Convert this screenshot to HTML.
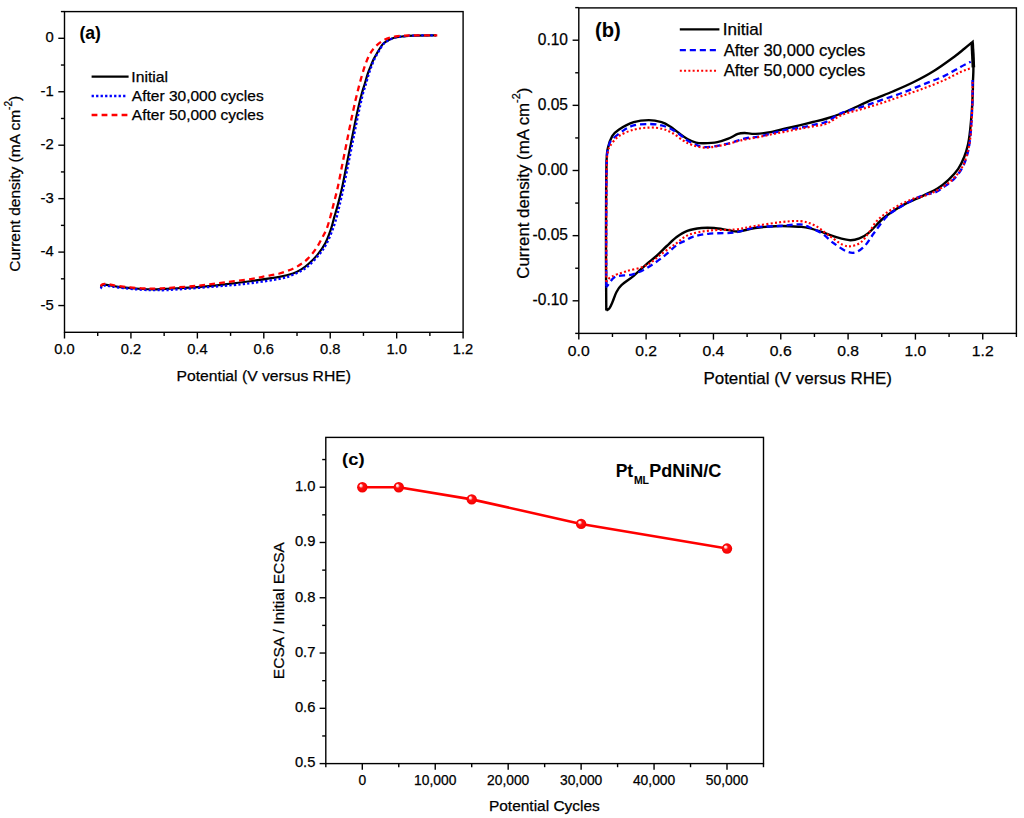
<!DOCTYPE html>
<html><head><meta charset="utf-8"><style>
html,body{margin:0;padding:0;background:#fff;}
svg{display:block;}
text{font-family:"Liberation Sans",sans-serif;fill:#000;stroke:#000;stroke-width:0.25px;}
text[font-weight="bold"]{stroke-width:0.08px;}
</style></head><body>
<svg width="1024" height="818" viewBox="0 0 1024 818">
<defs><radialGradient id="ball" cx="0.5" cy="0.5" r="0.5" fx="0.32" fy="0.3">
<stop offset="0" stop-color="#ffffff"/><stop offset="0.2" stop-color="#ffd0d0"/><stop offset="0.42" stop-color="#ff1010"/><stop offset="1" stop-color="#f40000"/></radialGradient></defs>
<rect width="1024" height="818" fill="#fff"/>
<rect x="64.5" y="11.6" width="398.6" height="320.7" fill="none" stroke="#000" stroke-width="1.4"/>
<line x1="64.5" y1="332.3" x2="64.5" y2="338.5" stroke="#000" stroke-width="1.4"/>
<text x="54.29" y="354.2" font-size="14.4" textLength="20.42" lengthAdjust="spacingAndGlyphs">0.0</text>
<line x1="97.72" y1="332.3" x2="97.72" y2="335.9" stroke="#000" stroke-width="1.4"/>
<line x1="130.93" y1="332.3" x2="130.93" y2="338.5" stroke="#000" stroke-width="1.4"/>
<text x="120.72" y="354.2" font-size="14.4" textLength="20.42" lengthAdjust="spacingAndGlyphs">0.2</text>
<line x1="164.15" y1="332.3" x2="164.15" y2="335.9" stroke="#000" stroke-width="1.4"/>
<line x1="197.37" y1="332.3" x2="197.37" y2="338.5" stroke="#000" stroke-width="1.4"/>
<text x="187.16" y="354.2" font-size="14.4" textLength="20.42" lengthAdjust="spacingAndGlyphs">0.4</text>
<line x1="230.58" y1="332.3" x2="230.58" y2="335.9" stroke="#000" stroke-width="1.4"/>
<line x1="263.8" y1="332.3" x2="263.8" y2="338.5" stroke="#000" stroke-width="1.4"/>
<text x="253.59" y="354.2" font-size="14.4" textLength="20.42" lengthAdjust="spacingAndGlyphs">0.6</text>
<line x1="297.02" y1="332.3" x2="297.02" y2="335.9" stroke="#000" stroke-width="1.4"/>
<line x1="330.23" y1="332.3" x2="330.23" y2="338.5" stroke="#000" stroke-width="1.4"/>
<text x="320.02" y="354.2" font-size="14.4" textLength="20.42" lengthAdjust="spacingAndGlyphs">0.8</text>
<line x1="363.45" y1="332.3" x2="363.45" y2="335.9" stroke="#000" stroke-width="1.4"/>
<line x1="396.67" y1="332.3" x2="396.67" y2="338.5" stroke="#000" stroke-width="1.4"/>
<text x="386.46" y="354.2" font-size="14.4" textLength="20.42" lengthAdjust="spacingAndGlyphs">1.0</text>
<line x1="429.88" y1="332.3" x2="429.88" y2="335.9" stroke="#000" stroke-width="1.4"/>
<line x1="463.1" y1="332.3" x2="463.1" y2="338.5" stroke="#000" stroke-width="1.4"/>
<text x="452.89" y="354.2" font-size="14.4" textLength="20.42" lengthAdjust="spacingAndGlyphs">1.2</text>
<line x1="60.9" y1="11.57" x2="64.5" y2="11.57" stroke="#000" stroke-width="1.4"/>
<line x1="58.3" y1="38.3" x2="64.5" y2="38.3" stroke="#000" stroke-width="1.4"/>
<text x="45.55" y="42.4" font-size="14.4" textLength="8.25" lengthAdjust="spacingAndGlyphs">0</text>
<line x1="60.9" y1="65.03" x2="64.5" y2="65.03" stroke="#000" stroke-width="1.4"/>
<line x1="58.3" y1="91.75" x2="64.5" y2="91.75" stroke="#000" stroke-width="1.4"/>
<text x="40.61" y="95.85" font-size="14.4" textLength="13.19" lengthAdjust="spacingAndGlyphs">-1</text>
<line x1="60.9" y1="118.48" x2="64.5" y2="118.48" stroke="#000" stroke-width="1.4"/>
<line x1="58.3" y1="145.2" x2="64.5" y2="145.2" stroke="#000" stroke-width="1.4"/>
<text x="40.61" y="149.3" font-size="14.4" textLength="13.19" lengthAdjust="spacingAndGlyphs">-2</text>
<line x1="60.9" y1="171.93" x2="64.5" y2="171.93" stroke="#000" stroke-width="1.4"/>
<line x1="58.3" y1="198.65" x2="64.5" y2="198.65" stroke="#000" stroke-width="1.4"/>
<text x="40.61" y="202.75" font-size="14.4" textLength="13.19" lengthAdjust="spacingAndGlyphs">-3</text>
<line x1="60.9" y1="225.38" x2="64.5" y2="225.38" stroke="#000" stroke-width="1.4"/>
<line x1="58.3" y1="252.1" x2="64.5" y2="252.1" stroke="#000" stroke-width="1.4"/>
<text x="40.61" y="256.2" font-size="14.4" textLength="13.19" lengthAdjust="spacingAndGlyphs">-4</text>
<line x1="60.9" y1="278.82" x2="64.5" y2="278.82" stroke="#000" stroke-width="1.4"/>
<line x1="58.3" y1="305.55" x2="64.5" y2="305.55" stroke="#000" stroke-width="1.4"/>
<text x="40.61" y="309.65" font-size="14.4" textLength="13.19" lengthAdjust="spacingAndGlyphs">-5</text>
<text x="176.51" y="380.7" font-size="15.5" textLength="174.46" lengthAdjust="spacingAndGlyphs">Potential (V versus RHE)</text>
<g transform="translate(19.9,0) rotate(-90)"><text x="-271.78" y="0" font-size="15.4" textLength="161.9" lengthAdjust="spacingAndGlyphs">Current density (mA cm</text><text x="-109.88" y="-8" font-size="10" textLength="8.9" lengthAdjust="spacingAndGlyphs">-2</text><text x="-100.98" y="0" font-size="15.4" textLength="5.13" lengthAdjust="spacingAndGlyphs">)</text></g>
<text x="79.43" y="39.2" font-size="17.8" font-weight="bold" textLength="21.45" lengthAdjust="spacingAndGlyphs">(a)</text>
<line x1="91.6" y1="76.7" x2="128.6" y2="76.7" stroke="#000" stroke-width="2.3"/>
<line x1="91.6" y1="96" x2="126" y2="96" stroke="#0000ff" stroke-width="2.3" stroke-dasharray="2.3,2.2"/>
<line x1="91.6" y1="115" x2="128.6" y2="115" stroke="#ff0000" stroke-width="2.3" stroke-dasharray="5.8,4.2"/>
<text x="131.35" y="81.7" font-size="14.8" textLength="36.7" lengthAdjust="spacingAndGlyphs">Initial</text>
<text x="131.87" y="100.8" font-size="14.8" textLength="131.79" lengthAdjust="spacingAndGlyphs">After 30,000 cycles</text>
<text x="131.87" y="119.5" font-size="14.8" textLength="131.79" lengthAdjust="spacingAndGlyphs">After 50,000 cycles</text>
<path d="M100.5,286.8 C101.15,286.43 101.42,284.6 104.4,284.6 C107.38,284.6 112.15,286.07 118.4,286.8 C124.65,287.53 135.47,288.58 141.9,289 C148.33,289.42 152.32,289.37 157,289.3 C161.68,289.23 163.28,288.97 170,288.6 C176.72,288.23 188.18,287.8 197.3,287.1 C206.42,286.4 215.58,285.42 224.7,284.4 C233.82,283.38 242.88,282.25 252,281 C261.12,279.75 272.57,278.15 279.4,276.9 C286.23,275.65 289.35,274.75 293,273.5 C296.65,272.25 298.73,270.98 301.3,269.4 C303.87,267.82 305.75,266.38 308.4,264 C311.05,261.62 314.38,258.55 317.2,255.1 C320.02,251.65 322.98,247.7 325.3,243.3 C327.62,238.9 329.62,233.02 331.1,228.7 C332.58,224.38 333.12,221.25 334.2,217.4 C335.28,213.55 336.3,210.5 337.6,205.6 C338.9,200.7 340.53,194.6 342,188 C343.47,181.4 344.93,173.33 346.4,166 C347.87,158.67 349.33,151.33 350.8,144 C352.27,136.67 353.85,128.5 355.2,122 C356.55,115.5 357.8,109.75 358.9,105 C360,100.25 360.82,97.05 361.8,93.5 C362.78,89.95 363.82,86.97 364.8,83.7 C365.78,80.43 366.72,76.83 367.7,73.9 C368.68,70.97 369.72,68.55 370.7,66.1 C371.68,63.65 372.47,61.48 373.6,59.2 C374.73,56.92 376.03,54.83 377.5,52.4 C378.97,49.97 380.77,46.55 382.4,44.6 C384.03,42.65 385.35,41.85 387.3,40.7 C389.25,39.55 391.65,38.4 394.1,37.7 C396.55,37 398.73,36.85 402,36.5 C405.27,36.15 408,35.8 413.7,35.6 C419.4,35.4 432.45,35.35 436.2,35.3" fill="none" stroke="#000" stroke-width="2.2" stroke-linejoin="round"/>
<path d="M100.5,288.5 C101.15,288 101.42,285.67 104.4,285.5 C107.38,285.33 112.15,286.78 118.4,287.5 C124.65,288.22 135.47,289.38 141.9,289.8 C148.33,290.22 152.32,289.98 157,290 C161.68,290.02 158.72,290.6 170,289.9 C181.28,289.2 211.03,286.95 224.7,285.8 C238.37,284.65 242.88,284.15 252,283 C261.12,281.85 272.57,280.27 279.4,278.9 C286.23,277.53 288.45,276.73 293,274.8 C297.55,272.87 302.42,270.58 306.7,267.3 C310.98,264.02 315.48,258.85 318.7,255.1 C321.92,251.35 323.8,248.72 326,244.8 C328.2,240.88 330.13,236.17 331.9,231.6 C333.67,227.03 335.33,221.73 336.6,217.4 C337.87,213.07 338.35,210.5 339.5,205.6 C340.65,200.7 342.1,194.6 343.5,188 C344.9,181.4 346.43,173.33 347.9,166 C349.37,158.67 350.83,151.33 352.3,144 C353.77,136.67 355.37,128.5 356.7,122 C358.03,115.5 359.25,109.75 360.3,105 C361.35,100.25 362.05,97.05 363,93.5 C363.95,89.95 365.03,86.97 366,83.7 C366.97,80.43 367.87,76.83 368.8,73.9 C369.73,70.97 370.67,68.55 371.6,66.1 C372.53,63.65 373.3,61.48 374.4,59.2 C375.5,56.92 376.77,54.83 378.2,52.4 C379.63,49.97 381.4,46.55 383,44.6 C384.6,42.65 385.88,41.85 387.8,40.7 C389.72,39.55 392.13,38.4 394.5,37.7 C396.87,37 398.8,36.85 402,36.5 C405.2,36.15 408,35.8 413.7,35.6 C419.4,35.4 432.45,35.35 436.2,35.3" fill="none" stroke="#0000ff" stroke-width="2.3" stroke-dasharray="2.3,2.2"/>
<path d="M100.5,286 C101.15,285.63 101.42,283.8 104.4,283.8 C107.38,283.8 112.15,285.25 118.4,286 C124.65,286.75 135.47,287.88 141.9,288.3 C148.33,288.72 152.32,288.58 157,288.5 C161.68,288.42 163.28,288.25 170,287.8 C176.72,287.35 188.18,286.72 197.3,285.8 C206.42,284.88 215.58,283.45 224.7,282.3 C233.82,281.15 245.17,279.92 252,278.9 C258.83,277.88 261.13,277.1 265.7,276.2 C270.27,275.3 274.85,274.75 279.4,273.5 C283.95,272.25 289.35,270.3 293,268.7 C296.65,267.1 298.78,265.62 301.3,263.9 C303.82,262.18 305.7,260.85 308.1,258.4 C310.5,255.95 313.45,252.45 315.7,249.2 C317.95,245.95 319.77,242.32 321.6,238.9 C323.43,235.48 325.25,232.35 326.7,228.7 C328.15,225.05 329.22,220.85 330.3,217 C331.38,213.15 331.98,210.43 333.2,205.6 C334.42,200.77 336.13,194.6 337.6,188 C339.07,181.4 340.53,173.33 342,166 C343.47,158.67 344.93,151.33 346.4,144 C347.87,136.67 349.28,129.28 350.8,122 C352.32,114.72 353.98,106.85 355.5,100.3 C357.02,93.75 358.35,88.4 359.9,82.7 C361.45,77 363.17,70.82 364.8,66.1 C366.43,61.38 367.92,57.67 369.7,54.4 C371.48,51.13 373.05,48.95 375.5,46.5 C377.95,44.05 381.3,41.33 384.4,39.7 C387.5,38.07 390.85,37.38 394.1,36.7 C397.35,36.02 396.7,35.83 403.9,35.6 C411.1,35.37 431.73,35.35 437.3,35.3" fill="none" stroke="#ff0000" stroke-width="2.3" stroke-dasharray="5.8,4.2"/>
<rect x="578.8" y="7.9" width="437.6" height="325.5" fill="none" stroke="#000" stroke-width="1.4"/>
<line x1="578.8" y1="333.4" x2="578.8" y2="339.6" stroke="#000" stroke-width="1.4"/>
<text x="567.88" y="355.8" font-size="15.4" textLength="21.84" lengthAdjust="spacingAndGlyphs">0.0</text>
<line x1="612.46" y1="333.4" x2="612.46" y2="337" stroke="#000" stroke-width="1.4"/>
<line x1="646.12" y1="333.4" x2="646.12" y2="339.6" stroke="#000" stroke-width="1.4"/>
<text x="635.2" y="355.8" font-size="15.4" textLength="21.84" lengthAdjust="spacingAndGlyphs">0.2</text>
<line x1="679.78" y1="333.4" x2="679.78" y2="337" stroke="#000" stroke-width="1.4"/>
<line x1="713.45" y1="333.4" x2="713.45" y2="339.6" stroke="#000" stroke-width="1.4"/>
<text x="702.53" y="355.8" font-size="15.4" textLength="21.84" lengthAdjust="spacingAndGlyphs">0.4</text>
<line x1="747.11" y1="333.4" x2="747.11" y2="337" stroke="#000" stroke-width="1.4"/>
<line x1="780.77" y1="333.4" x2="780.77" y2="339.6" stroke="#000" stroke-width="1.4"/>
<text x="769.85" y="355.8" font-size="15.4" textLength="21.84" lengthAdjust="spacingAndGlyphs">0.6</text>
<line x1="814.43" y1="333.4" x2="814.43" y2="337" stroke="#000" stroke-width="1.4"/>
<line x1="848.09" y1="333.4" x2="848.09" y2="339.6" stroke="#000" stroke-width="1.4"/>
<text x="837.17" y="355.8" font-size="15.4" textLength="21.84" lengthAdjust="spacingAndGlyphs">0.8</text>
<line x1="881.75" y1="333.4" x2="881.75" y2="337" stroke="#000" stroke-width="1.4"/>
<line x1="915.42" y1="333.4" x2="915.42" y2="339.6" stroke="#000" stroke-width="1.4"/>
<text x="904.5" y="355.8" font-size="15.4" textLength="21.84" lengthAdjust="spacingAndGlyphs">1.0</text>
<line x1="949.08" y1="333.4" x2="949.08" y2="337" stroke="#000" stroke-width="1.4"/>
<line x1="982.74" y1="333.4" x2="982.74" y2="339.6" stroke="#000" stroke-width="1.4"/>
<text x="971.82" y="355.8" font-size="15.4" textLength="21.84" lengthAdjust="spacingAndGlyphs">1.2</text>
<line x1="1016.4" y1="333.4" x2="1016.4" y2="337" stroke="#000" stroke-width="1.4"/>
<line x1="575.2" y1="7.62" x2="578.8" y2="7.62" stroke="#000" stroke-width="1.4"/>
<line x1="572.6" y1="40.2" x2="578.8" y2="40.2" stroke="#000" stroke-width="1.4"/>
<text x="537.76" y="44.5" font-size="16.1" textLength="30.24" lengthAdjust="spacingAndGlyphs">0.10</text>
<line x1="575.2" y1="72.78" x2="578.8" y2="72.78" stroke="#000" stroke-width="1.4"/>
<line x1="572.6" y1="105.35" x2="578.8" y2="105.35" stroke="#000" stroke-width="1.4"/>
<text x="537.76" y="109.65" font-size="16.1" textLength="30.24" lengthAdjust="spacingAndGlyphs">0.05</text>
<line x1="575.2" y1="137.93" x2="578.8" y2="137.93" stroke="#000" stroke-width="1.4"/>
<line x1="572.6" y1="170.5" x2="578.8" y2="170.5" stroke="#000" stroke-width="1.4"/>
<text x="537.76" y="174.8" font-size="16.1" textLength="30.24" lengthAdjust="spacingAndGlyphs">0.00</text>
<line x1="575.2" y1="203.08" x2="578.8" y2="203.08" stroke="#000" stroke-width="1.4"/>
<line x1="572.6" y1="235.65" x2="578.8" y2="235.65" stroke="#000" stroke-width="1.4"/>
<text x="532.59" y="239.95" font-size="16.1" textLength="35.41" lengthAdjust="spacingAndGlyphs">-0.05</text>
<line x1="575.2" y1="268.23" x2="578.8" y2="268.23" stroke="#000" stroke-width="1.4"/>
<line x1="572.6" y1="300.8" x2="578.8" y2="300.8" stroke="#000" stroke-width="1.4"/>
<text x="532.59" y="305.1" font-size="16.1" textLength="35.41" lengthAdjust="spacingAndGlyphs">-0.10</text>
<line x1="575.2" y1="333.38" x2="578.8" y2="333.38" stroke="#000" stroke-width="1.4"/>
<text x="703.41" y="383.7" font-size="16.7" textLength="188.54" lengthAdjust="spacingAndGlyphs">Potential (V versus RHE)</text>
<g transform="translate(528.8,0) rotate(-90)"><text x="-278.65" y="0" font-size="16.7" textLength="175.7" lengthAdjust="spacingAndGlyphs">Current density (mA cm</text><text x="-102.95" y="-8.6" font-size="10.8" textLength="9.62" lengthAdjust="spacingAndGlyphs">-2</text><text x="-93.33" y="0" font-size="16.7" textLength="5.57" lengthAdjust="spacingAndGlyphs">)</text></g>
<text x="595" y="37" font-size="20.2" font-weight="bold" textLength="25.71" lengthAdjust="spacingAndGlyphs">(b)</text>
<line x1="679.8" y1="29.4" x2="719.4" y2="29.4" stroke="#000" stroke-width="2.2"/>
<line x1="679.8" y1="50.2" x2="716.5" y2="50.2" stroke="#0000ff" stroke-width="2.2" stroke-dasharray="6.1,3.9"/>
<line x1="679.8" y1="70.7" x2="717" y2="70.7" stroke="#ff0000" stroke-width="2.1" stroke-dasharray="2,2.28"/>
<text x="722.83" y="35" font-size="16.4" textLength="39.81" lengthAdjust="spacingAndGlyphs">Initial</text>
<text x="723.67" y="55.5" font-size="16.4" textLength="141.73" lengthAdjust="spacingAndGlyphs">After 30,000 cycles</text>
<text x="723.67" y="76" font-size="16.4" textLength="141.73" lengthAdjust="spacingAndGlyphs">After 50,000 cycles</text>
<path d="M606.3,310.5 C606.25,302.08 606.03,278.42 606,260 C605.97,241.58 606,216.67 606.1,200 C606.2,183.33 606.3,168.67 606.6,160 C606.9,151.33 606.97,151.97 607.9,148 C608.83,144.03 610.4,139.25 612.2,136.2 C614,133.15 615.12,132.03 618.7,129.7 C622.28,127.37 628.68,123.8 633.7,122.2 C638.72,120.6 644.15,120.1 648.8,120.1 C653.45,120.1 658.03,121.13 661.6,122.2 C665.17,123.27 667.33,124.7 670.2,126.5 C673.07,128.3 675.93,130.92 678.8,133 C681.67,135.08 684.53,137.4 687.4,139 C690.27,140.6 693.28,141.9 696,142.6 C698.72,143.3 700.15,143.28 703.7,143.2 C707.25,143.12 713.2,142.85 717.3,142.1 C721.4,141.35 724.87,140.07 728.3,138.7 C731.73,137.33 735.17,134.85 737.9,133.9 C740.63,132.95 741.75,133 744.7,133 C747.65,133 751.05,134.08 755.6,133.9 C760.15,133.72 766.98,132.8 772,131.9 C777.02,131 781.13,129.6 785.7,128.5 C790.27,127.4 794.85,126.38 799.4,125.3 C803.95,124.22 808.45,123.13 813,122 C817.55,120.87 821.95,119.92 826.7,118.5 C831.45,117.08 837.32,115.08 841.5,113.5 C845.68,111.92 846.67,111.3 851.8,109 C856.93,106.7 865.47,102.62 872.3,99.7 C879.13,96.78 885.97,94.4 892.8,91.5 C899.63,88.6 906.47,85.72 913.3,82.3 C920.13,78.88 926.97,75.27 933.8,71 C940.63,66.73 949.17,60.45 954.3,56.7 C959.43,52.95 961.55,50.97 964.6,48.5 C967.65,46.03 971.27,43 972.6,41.9 L972.6,41.9 C972.73,46.15 973.33,60.95 973.4,67.4 C973.47,73.85 973.1,76.58 973,80.6 C972.9,84.62 973,86.27 972.8,91.5 C972.6,96.73 972.08,107.25 971.8,112 C971.52,116.75 971.43,116.5 971.1,120 C970.77,123.5 970.32,128.93 969.8,133 C969.28,137.07 968.92,140.45 968,144.4 C967.08,148.35 965.93,152.62 964.3,156.7 C962.67,160.78 960.83,165.03 958.2,168.9 C955.57,172.77 951.95,176.63 948.5,179.9 C945.05,183.17 941.78,185.85 937.5,188.5 C933.22,191.15 928.32,193.15 922.8,195.8 C917.28,198.45 909.5,201.75 904.4,204.4 C899.3,207.05 895.87,209.27 892.2,211.7 C888.53,214.13 886.32,215.48 882.4,219 C878.48,222.52 872.53,229.58 868.7,232.8 C864.87,236.02 862.5,237.07 859.4,238.3 C856.3,239.53 853.82,240.35 850.1,240.2 C846.38,240.05 841.43,238.63 837.1,237.4 C832.77,236.17 828.73,234.35 824.1,232.8 C819.47,231.25 813.32,229.1 809.3,228.1 C805.28,227.1 804.95,227.15 800,226.8 C795.05,226.45 787.1,225.8 779.6,226 C772.1,226.2 761.83,227.08 755,228 C748.17,228.92 743.05,231.15 738.6,231.5 C734.15,231.85 732.4,230.68 728.3,230.1 C724.2,229.52 718.45,228.35 714,228 C709.55,227.65 706.05,227.53 701.6,228 C697.15,228.47 691.4,229.33 687.3,230.8 C683.2,232.27 680.42,234.27 677,236.8 C673.58,239.33 670.22,242.8 666.8,246 C663.38,249.2 659.92,252.95 656.5,256 C653.08,259.05 650.05,261.03 646.3,264.3 C642.55,267.57 638.1,272.17 634,275.6 C629.9,279.03 624.62,282.17 621.7,284.9 C618.78,287.63 618.05,289.1 616.5,292 C614.95,294.9 613.58,299.57 612.4,302.3 C611.22,305.03 610.42,307.03 609.4,308.4 C608.38,309.77 606.82,310.15 606.3,310.5" fill="none" stroke="#000" stroke-width="2.4" stroke-linejoin="miter"/>
<path d="M972.2,42.5 L973.4,67.4" fill="none" stroke="#000" stroke-width="3.6"/>
<path d="M606.3,285.9 C606.28,278.25 606.18,257.65 606.2,240 C606.22,222.35 606.27,194.17 606.4,180 C606.53,165.83 606.57,160.83 607,155 C607.43,149.17 608.13,147.6 609,145 C609.87,142.4 609.87,141.77 612.2,139.4 C614.53,137.03 619.42,133.13 623,130.8 C626.58,128.47 629.4,126.53 633.7,125.4 C638,124.27 644.15,124 648.8,124 C653.45,124 657.67,124.45 661.6,125.4 C665.53,126.35 669.17,128.02 672.4,129.7 C675.63,131.38 678.5,133.7 681,135.5 C683.5,137.3 684.9,138.95 687.4,140.5 C689.9,142.05 693.28,143.68 696,144.8 C698.72,145.92 700.15,147.03 703.7,147.2 C707.25,147.37 712.75,146.53 717.3,145.8 C721.85,145.07 727.35,143.75 731,142.8 C734.65,141.85 736.47,140.9 739.2,140.1 C741.93,139.3 744.2,138.57 747.4,138 C750.6,137.43 754.3,137.5 758.4,136.7 C762.5,135.9 767.45,134.35 772,133.2 C776.55,132.05 781.13,130.7 785.7,129.8 C790.27,128.9 794.85,128.6 799.4,127.8 C803.95,127 808.45,126.03 813,125 C817.55,123.97 821.95,123.6 826.7,121.6 C831.45,119.6 835.62,115.45 841.5,113 C847.38,110.55 855.17,109.12 862,106.9 C868.83,104.68 875.67,102.08 882.5,99.7 C889.33,97.32 896.15,95.17 903,92.6 C909.85,90.03 916.75,87.05 923.6,84.3 C930.45,81.55 937.95,79 944.1,76.1 C950.25,73.2 956.07,69.28 960.5,66.9 C964.93,64.52 969,62.65 970.7,61.8" fill="none" stroke="#0000ff" stroke-width="2.3" stroke-dasharray="6.1,3.9"/>
<path d="M972.6,80 C972.58,83.33 972.67,93.33 972.5,100 C972.33,106.67 971.97,113.83 971.6,120 C971.23,126.17 970.87,131.83 970.3,137 C969.73,142.17 969.2,146.58 968.2,151 C967.2,155.42 965.78,159.92 964.3,163.5 C962.82,167.08 961.27,169.67 959.3,172.5 C957.33,175.33 955.05,178.12 952.5,180.5 C949.95,182.88 946.92,184.8 944,186.8 C941.08,188.8 938.9,190.93 935,192.5 C931.1,194.07 926.08,193.97 920.6,196.2 C915.12,198.43 907.67,202.58 902.1,205.9 C896.53,209.22 891.85,211.62 887.2,216.1 C882.55,220.58 877.92,227.85 874.2,232.8 C870.48,237.75 867.98,242.55 864.9,245.8 C861.82,249.05 858.78,251.38 855.7,252.3 C852.62,253.22 850.12,252.85 846.4,251.3 C842.68,249.75 837.42,245.93 833.4,243 C829.38,240.07 826.32,236.33 822.3,233.7 C818.28,231.07 813.02,228.75 809.3,227.2 C805.58,225.65 804.95,224.6 800,224.4 C795.05,224.2 787.1,225.5 779.6,226 C772.1,226.5 762.52,226.3 755,227.4 C747.48,228.5 742.03,231.57 734.5,232.6 C726.97,233.63 716.65,232.92 709.8,233.6 C702.95,234.28 697.5,235.5 693.4,236.7 C689.3,237.9 687.93,239.43 685.2,240.8 C682.47,242.17 680.75,242.17 677,244.9 C673.25,247.63 667.82,253.28 662.7,257.2 C657.58,261.12 651.43,265.5 646.3,268.4 C641.17,271.3 637.03,273.22 631.9,274.6 C626.77,275.98 619.6,274.82 615.5,276.7 C611.4,278.58 608.83,284.37 607.3,285.9 C605.77,287.43 606.47,285.9 606.3,285.9" fill="none" stroke="#0000ff" stroke-width="2.3" stroke-dasharray="6.1,3.9"/>
<path d="M606.3,281.8 C606.3,274.83 606.27,256.97 606.3,240 C606.33,223.03 606.38,193.67 606.5,180 C606.62,166.33 606.67,163 607,158 C607.33,153 607.98,152.02 608.5,150 C609.02,147.98 608.4,148.2 610.1,145.9 C611.8,143.6 614.77,138.9 618.7,136.2 C622.63,133.5 628.68,131.13 633.7,129.7 C638.72,128.27 644.15,127.77 648.8,127.6 C653.45,127.43 657.67,127.8 661.6,128.7 C665.53,129.6 668.82,131.03 672.4,133 C675.98,134.97 679.88,138.53 683.1,140.5 C686.32,142.47 688.27,143.62 691.7,144.8 C695.13,145.98 699.43,147.37 703.7,147.6 C707.97,147.83 712.75,146.93 717.3,146.2 C721.85,145.47 727.35,144.1 731,143.2 C734.65,142.3 736.47,141.48 739.2,140.8 C741.93,140.12 744.2,139.72 747.4,139.1 C750.6,138.48 754.3,137.9 758.4,137.1 C762.5,136.3 767.45,135.22 772,134.3 C776.55,133.38 781.13,132.5 785.7,131.6 C790.27,130.7 794.85,129.77 799.4,128.9 C803.95,128.03 808.45,127.27 813,126.4 C817.55,125.53 821.95,125.58 826.7,123.7 C831.45,121.82 835.62,117.55 841.5,115.1 C847.38,112.65 855.17,111.05 862,109 C868.83,106.95 875.67,105.03 882.5,102.8 C889.33,100.57 896.15,98 903,95.6 C909.85,93.2 916.75,90.97 923.6,88.4 C930.45,85.83 937.95,82.93 944.1,80.2 C950.25,77.47 955.88,74.05 960.5,72 C965.12,69.95 969.92,68.58 971.8,67.9" fill="none" stroke="#ff0000" stroke-width="2.1" stroke-dasharray="2,2.28"/>
<path d="M972.6,82 C972.55,85.83 972.5,97.83 972.3,105 C972.1,112.17 971.75,119.33 971.4,125 C971.05,130.67 970.77,134.73 970.2,139 C969.63,143.27 968.98,146.63 968,150.6 C967.02,154.57 965.72,159.35 964.3,162.8 C962.88,166.25 961.33,168.65 959.5,171.3 C957.67,173.95 955.55,176.45 953.3,178.7 C951.05,180.95 949.05,182.67 946,184.8 C942.95,186.93 938.87,189.55 935,191.5 C931.13,193.45 926.75,195.18 922.8,196.5 C918.85,197.82 916.3,197.37 911.3,199.4 C906.3,201.43 898.37,205.3 892.8,208.7 C887.23,212.1 881.92,215.78 877.9,219.8 C873.88,223.82 871.48,229.1 868.7,232.8 C865.92,236.5 863.98,239.78 861.2,242 C858.42,244.22 855.08,245.63 852,246.1 C848.92,246.57 846.73,246.72 842.7,244.8 C838.67,242.88 832.45,237.83 827.8,234.6 C823.15,231.37 819.43,227.65 814.8,225.4 C810.17,223.15 805.87,221.62 800,221.1 C794.13,220.58 787.1,221.48 779.6,222.3 C772.1,223.12 762.52,224.8 755,226 C747.48,227.2 742.03,228.75 734.5,229.5 C726.97,230.25 717.33,229.65 709.8,230.5 C702.27,231.35 694.77,232.55 689.3,234.6 C683.83,236.65 681.43,239.72 677,242.8 C672.57,245.88 667.82,249.33 662.7,253.1 C657.58,256.87 652.45,262.33 646.3,265.4 C640.15,268.47 631.62,269.62 625.8,271.5 C619.98,273.38 614.65,274.98 611.4,276.7 C608.15,278.42 607.15,280.95 606.3,281.8" fill="none" stroke="#ff0000" stroke-width="2.1" stroke-dasharray="2,2.28"/>
<rect x="325.8" y="437.4" width="437.7" height="326.2" fill="none" stroke="#000" stroke-width="1.4"/>
<line x1="325.83" y1="763.6" x2="325.83" y2="767.2" stroke="#000" stroke-width="1.4"/>
<line x1="362.3" y1="763.6" x2="362.3" y2="769.8" stroke="#000" stroke-width="1.4"/>
<text x="358.45" y="785" font-size="13.9" textLength="7.69" lengthAdjust="spacingAndGlyphs">0</text>
<line x1="398.77" y1="763.6" x2="398.77" y2="767.2" stroke="#000" stroke-width="1.4"/>
<line x1="435.24" y1="763.6" x2="435.24" y2="769.8" stroke="#000" stroke-width="1.4"/>
<text x="414.09" y="785" font-size="13.9" textLength="42.3" lengthAdjust="spacingAndGlyphs">10,000</text>
<line x1="471.71" y1="763.6" x2="471.71" y2="767.2" stroke="#000" stroke-width="1.4"/>
<line x1="508.18" y1="763.6" x2="508.18" y2="769.8" stroke="#000" stroke-width="1.4"/>
<text x="487.03" y="785" font-size="13.9" textLength="42.3" lengthAdjust="spacingAndGlyphs">20,000</text>
<line x1="544.65" y1="763.6" x2="544.65" y2="767.2" stroke="#000" stroke-width="1.4"/>
<line x1="581.12" y1="763.6" x2="581.12" y2="769.8" stroke="#000" stroke-width="1.4"/>
<text x="559.97" y="785" font-size="13.9" textLength="42.3" lengthAdjust="spacingAndGlyphs">30,000</text>
<line x1="617.59" y1="763.6" x2="617.59" y2="767.2" stroke="#000" stroke-width="1.4"/>
<line x1="654.06" y1="763.6" x2="654.06" y2="769.8" stroke="#000" stroke-width="1.4"/>
<text x="632.91" y="785" font-size="13.9" textLength="42.3" lengthAdjust="spacingAndGlyphs">40,000</text>
<line x1="690.53" y1="763.6" x2="690.53" y2="767.2" stroke="#000" stroke-width="1.4"/>
<line x1="727" y1="763.6" x2="727" y2="769.8" stroke="#000" stroke-width="1.4"/>
<text x="705.85" y="785" font-size="13.9" textLength="42.3" lengthAdjust="spacingAndGlyphs">50,000</text>
<line x1="763.47" y1="763.6" x2="763.47" y2="767.2" stroke="#000" stroke-width="1.4"/>
<line x1="319.6" y1="763.6" x2="325.8" y2="763.6" stroke="#000" stroke-width="1.4"/>
<text x="294.92" y="767.4" font-size="14.3" textLength="20.48" lengthAdjust="spacingAndGlyphs">0.5</text>
<line x1="322.2" y1="735.96" x2="325.8" y2="735.96" stroke="#000" stroke-width="1.4"/>
<line x1="319.6" y1="708.32" x2="325.8" y2="708.32" stroke="#000" stroke-width="1.4"/>
<text x="294.92" y="712.12" font-size="14.3" textLength="20.48" lengthAdjust="spacingAndGlyphs">0.6</text>
<line x1="322.2" y1="680.68" x2="325.8" y2="680.68" stroke="#000" stroke-width="1.4"/>
<line x1="319.6" y1="653.04" x2="325.8" y2="653.04" stroke="#000" stroke-width="1.4"/>
<text x="294.92" y="656.84" font-size="14.3" textLength="20.48" lengthAdjust="spacingAndGlyphs">0.7</text>
<line x1="322.2" y1="625.4" x2="325.8" y2="625.4" stroke="#000" stroke-width="1.4"/>
<line x1="319.6" y1="597.76" x2="325.8" y2="597.76" stroke="#000" stroke-width="1.4"/>
<text x="294.92" y="601.56" font-size="14.3" textLength="20.48" lengthAdjust="spacingAndGlyphs">0.8</text>
<line x1="322.2" y1="570.12" x2="325.8" y2="570.12" stroke="#000" stroke-width="1.4"/>
<line x1="319.6" y1="542.48" x2="325.8" y2="542.48" stroke="#000" stroke-width="1.4"/>
<text x="294.92" y="546.28" font-size="14.3" textLength="20.48" lengthAdjust="spacingAndGlyphs">0.9</text>
<line x1="322.2" y1="514.84" x2="325.8" y2="514.84" stroke="#000" stroke-width="1.4"/>
<line x1="319.6" y1="487.2" x2="325.8" y2="487.2" stroke="#000" stroke-width="1.4"/>
<text x="294.92" y="491" font-size="14.3" textLength="20.48" lengthAdjust="spacingAndGlyphs">1.0</text>
<line x1="322.2" y1="459.56" x2="325.8" y2="459.56" stroke="#000" stroke-width="1.4"/>
<text x="488.93" y="810.6" font-size="15.2" textLength="110.93" lengthAdjust="spacingAndGlyphs">Potential Cycles</text>
<g transform="translate(284.3,0) rotate(-90)"><text x="-679.16" y="0" font-size="15.3" textLength="137.09" lengthAdjust="spacingAndGlyphs">ECSA / Initial ECSA</text></g>
<text x="342.09" y="465.2" font-size="16.6" font-weight="bold" textLength="22.43" lengthAdjust="spacingAndGlyphs">(c)</text>
<text x="615.63" y="476.7" font-size="17.5" font-weight="bold">Pt</text>
<text x="633.9" y="483.8" font-size="10.4" font-weight="bold" textLength="15.12" lengthAdjust="spacingAndGlyphs">ML</text>
<text x="649.2" y="476.7" font-size="17.5" font-weight="bold" textLength="72" lengthAdjust="spacingAndGlyphs">PdNiN/C</text>
<polyline points="362.3,487.2 398.77,487.2 471.71,499.36 581.12,523.91 727,548.56" fill="none" stroke="#ff0000" stroke-width="2.6" stroke-linejoin="round"/>
<circle cx="362.3" cy="487.2" r="5.2" fill="url(#ball)"/>
<circle cx="398.77" cy="487.2" r="5.2" fill="url(#ball)"/>
<circle cx="471.71" cy="499.36" r="5.2" fill="url(#ball)"/>
<circle cx="581.12" cy="523.91" r="5.2" fill="url(#ball)"/>
<circle cx="727" cy="548.56" r="5.2" fill="url(#ball)"/>
</svg></body></html>
